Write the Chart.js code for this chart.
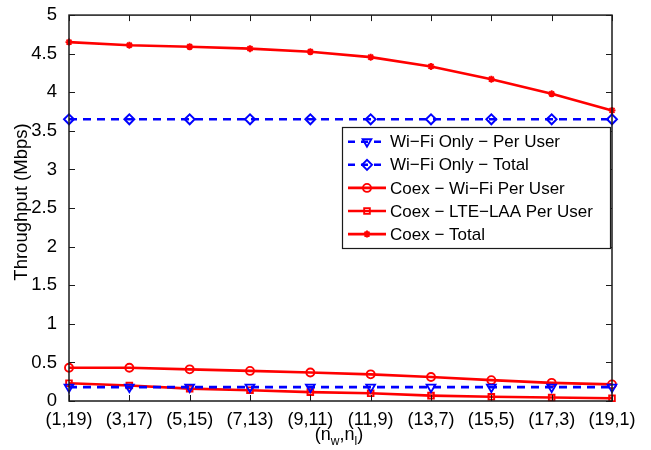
<!DOCTYPE html>
<html>
<head>
<meta charset="utf-8">
<script src="https://cdn.jsdelivr.net/npm/chart.js@4"></script>
<style>
html,body{margin:0;padding:0;background:#fff;}
canvas{display:block;}
</style>
</head>
<body>
<canvas id="c" width="651" height="450"></canvas>
<script>
// ---- data ----
const categories = ['(1,19)','(3,17)','(5,15)','(7,13)','(9,11)','(11,9)','(13,7)','(15,5)','(17,3)','(19,1)'];
const wifiOnlyPerUser = [0.18,0.18,0.18,0.18,0.18,0.18,0.18,0.18,0.18,0.18];
const wifiOnlyTotal   = [3.65,3.65,3.65,3.65,3.65,3.65,3.65,3.65,3.65,3.65];
const coexWifiPerUser = [0.43,0.43,0.41,0.39,0.37,0.345,0.31,0.27,0.235,0.215];
const coexLtePerUser  = [0.23,0.20,0.16,0.14,0.115,0.10,0.07,0.055,0.045,0.035];
const coexTotal       = [4.65,4.61,4.59,4.565,4.525,4.455,4.335,4.17,3.98,3.765];
const yTickLabels = ['0','0.5','1','1.5','2','2.5','3','3.5','4','4.5','5'];
const seriesNames = ['Wi\u2212Fi Only \u2212 Per User','Wi\u2212Fi Only \u2212 Total','Coex \u2212 Wi\u2212Fi Per User','Coex \u2212 LTE\u2212LAA Per User','Coex \u2212 Total'];
const yTitle = 'Throughput (Mbps)';

const FONT = '"Liberation Sans", Arial, Helvetica, sans-serif';
const BLUE = '#0000ff', RED = '#ff0000';
const TRANSP = 'rgba(0,0,0,0)';

function ds(label, data, color, dash, style, radius, rot){
  return {
    label, data,
    borderColor: color, backgroundColor: TRANSP,
    borderWidth: 2.6, borderDash: dash,
    pointStyle: style, pointRadius: radius, pointRotation: rot||0,
    pointBorderColor: color, pointBackgroundColor: TRANSP, pointBorderWidth: 1.9,
    tension: 0, clip: false
  };
}

const datasets = [
  ds(seriesNames[0], wifiOnlyPerUser, BLUE, [8,6], 'triangle', 5, 180),
  ds(seriesNames[1], wifiOnlyTotal, BLUE, [8,6], 'rectRot', 5, 0),
  ds(seriesNames[2], coexWifiPerUser, RED, [], 'circle', 4, 0),
  ds(seriesNames[3], coexLtePerUser, RED, [], 'rect', 4, 0),
  ds(seriesNames[4], coexTotal, RED, [], 'star', 3.5, 0)
];

const decor = {
  id: 'decor',
  afterDatasetsDraw(chart){
    const ctx = chart.ctx, a = chart.chartArea;
    const xs = chart.scales.x, ys = chart.scales.y;
    ctx.save();
    ctx.strokeStyle = '#1a1a1a';
    ctx.lineWidth = 1.5;
    ctx.setLineDash([]);
    ctx.strokeRect(a.left, a.top, a.right - a.left, a.bottom - a.top);
    ctx.lineWidth = 1;
    ctx.beginPath();
    const tl = 6;
    for (let i = 0; i < categories.length; i++){
      const x = Math.round(xs.getPixelForValue(i)) + 0.5;
      ctx.moveTo(x, a.bottom); ctx.lineTo(x, a.bottom - tl);
      ctx.moveTo(x, a.top); ctx.lineTo(x, a.top + tl);
    }
    for (let i = 0; i < yTickLabels.length; i++){
      const y = Math.round(ys.getPixelForValue(i*0.5)) + 0.5;
      ctx.moveTo(a.left, y); ctx.lineTo(a.left + tl, y);
      ctx.moveTo(a.right, y); ctx.lineTo(a.right - tl, y);
    }
    ctx.stroke();

    // legend
    const lx = 342, ly = 127, lw = 268, lh = 121;
    ctx.fillStyle = '#fff';
    ctx.fillRect(lx, ly, lw, lh);
    ctx.strokeStyle = '#1a1a1a';
    ctx.lineWidth = 1.2;
    ctx.strokeRect(lx + 0.5, ly + 0.5, lw, lh);
    const rowY0 = 141.7, rowStep = 23.1;
    chart.data.datasets.forEach((d, i) => {
      const y = rowY0 + i*rowStep;
      ctx.save();
      ctx.strokeStyle = d.borderColor;
      ctx.lineWidth = d.borderWidth;
      ctx.setLineDash(d.borderDash.length ? [7,6] : []);
      ctx.beginPath();
      ctx.moveTo(348, y); ctx.lineTo(386, y);
      ctx.stroke();
      ctx.setLineDash([]);
      ctx.strokeStyle = d.pointBorderColor;
      ctx.fillStyle = d.pointBackgroundColor;
      ctx.lineWidth = d.pointBorderWidth;
      Chart.helpers.drawPoint(ctx, {pointStyle: d.pointStyle, radius: d.pointRadius, rotation: d.pointRotation, borderWidth: d.pointBorderWidth}, 367, y);
      ctx.restore();
      ctx.fillStyle = '#000';
      ctx.font = '17px ' + FONT;
      ctx.textAlign = 'left';
      ctx.textBaseline = 'middle';
      ctx.fillText(d.label, 390, y + 1);
    });

    // y title
    ctx.save();
    ctx.translate(27, 202);
    ctx.rotate(-Math.PI/2);
    ctx.fillStyle = '#000';
    ctx.font = '18.5px ' + FONT;
    ctx.textAlign = 'center';
    ctx.textBaseline = 'alphabetic';
    ctx.fillText(yTitle, 0, 0);
    ctx.restore();

    // x title (n_w, n_l) with subscripts
    const parts = [['(n',18,0],['w',12,5],[',n',18,0],['l',12,5],[')',18,0]];
    let total = 0;
    parts.forEach(p => { ctx.font = p[1] + 'px ' + FONT; total += ctx.measureText(p[0]).width; });
    let x = 339 - total/2;
    ctx.fillStyle = '#000';
    ctx.textAlign = 'left';
    ctx.textBaseline = 'alphabetic';
    parts.forEach(p => {
      ctx.font = p[1] + 'px ' + FONT;
      ctx.fillText(p[0], x, 440 + p[2]);
      x += ctx.measureText(p[0]).width;
    });
    ctx.restore();
  }
};

new Chart(document.getElementById('c'), {
  type: 'line',
  data: { labels: categories, datasets },
  options: {
    responsive: false,
    animation: false,
    devicePixelRatio: 1,
    layout: { padding: { top: 12, right: 39, left: 0, bottom: 0 } },
    plugins: { legend: { display: false }, tooltip: { enabled: false }, title: { display: false } },
    scales: {
      x: {
        type: 'category',
        offset: false,
        grid: { display: false },
        border: { display: false },
        ticks: { color: '#000', font: { size: 18, family: FONT }, padding: 0, maxRotation: 0, autoSkip: false },
        afterFit(s){ s.height = 49; }
      },
      y: {
        min: 0, max: 5,
        grid: { display: false },
        border: { display: false },
        ticks: {
          stepSize: 0.5, color: '#000', font: { size: 18.5, family: FONT }, padding: 4,
          callback: (v, i) => yTickLabels[i]
        },
        afterFit(s){ s.width = 69; }
      }
    }
  },
  plugins: [decor]
});
</script>
</body>
</html>
